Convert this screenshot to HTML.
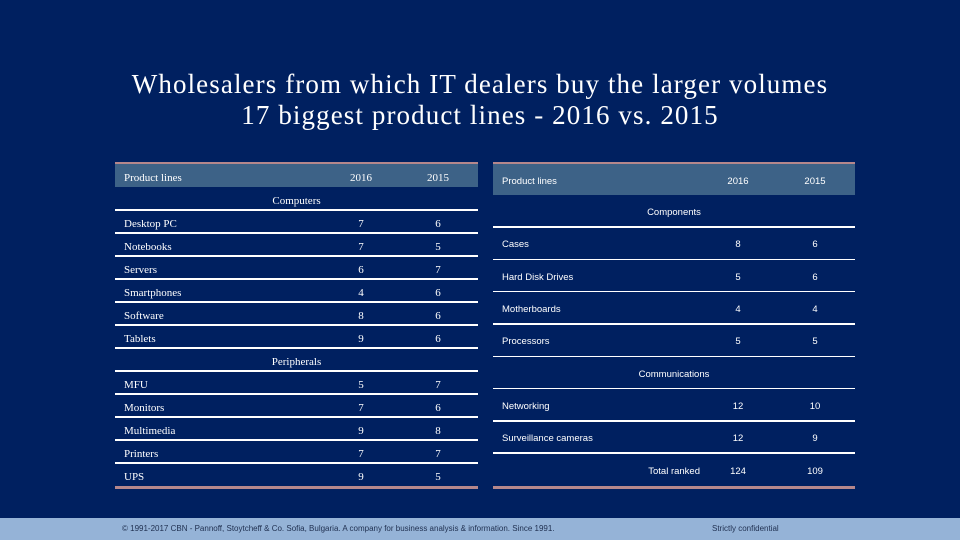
<!DOCTYPE html>
<html><head><meta charset="utf-8">
<style>
body{margin:0;width:960px;height:540px;overflow:hidden;background:#002060;position:relative;font-family:"Liberation Serif",serif;color:#fff}
.abs{position:absolute}
#title{left:0;width:960px;top:69px;text-align:center;font-size:27px;line-height:31px;letter-spacing:1.1px}
.c{text-align:center}
.L{font-family:"Liberation Serif",serif;font-size:11px}
.R{font-family:"Liberation Sans",sans-serif;font-size:9.5px}
#footer{left:0;top:518px;width:960px;height:22px;background:#95b3d7}
.ft{font-family:"Liberation Sans",sans-serif;font-size:8px;color:#1f2f4f;top:524px}
</style></head><body>
<div id="title" class="abs">Wholesalers from which IT dealers buy the larger volumes<br>17 biggest product lines - 2016 vs. 2015</div>
<div id="footer" class="abs"></div>
<div class="abs ft" style="left:122px">© 1991-2017 CBN - Pannoff, Stoytcheff &amp; Co. Sofia, Bulgaria. A company for business analysis &amp; information. Since 1991.</div>
<div class="abs ft" style="left:712px">Strictly confidential</div>
<script>
const leftRows=[["g","Computers"],["r","Desktop PC"],["r","Notebooks"],["r","Servers"],["r","Smartphones"],["r","Software"],["r","Tablets"],["g","Peripherals"],["r","MFU"],["r","Monitors"],["r","Multimedia"],["r","Printers"],["r","UPS"]];
const left2016=[null,7,7,6,4,8,9,null,5,7,9,7,9];
const left2015=[null,6,5,7,6,6,6,null,7,6,8,7,5];
const rightRows=[["g","Components"],["r","Cases"],["r","Hard Disk Drives"],["r","Motherboards"],["r","Processors"],["g","Communications"],["r","Networking"],["r","Surveillance cameras"],["t","Total ranked"]];
const right2016=[null,8,5,4,5,null,12,12,124];
const right2015=[null,6,6,4,5,null,10,9,109];
function el(cls,st,txt){const d=document.createElement('div');d.className='abs '+cls;Object.assign(d.style,st);if(txt!=null)d.textContent=txt;document.body.appendChild(d);return d;}
function table(o){
  const x=o.x,w=o.w;
  let d=el('',{left:x+'px',top:(o.top-2)+'px',width:w+'px',height:'2px',background:'#b5878c'});
  
  
  d=el('',{left:x+'px',top:o.top+'px',width:w+'px',height:o.hh+'px',background:'#3d6287'});
  
  
  const hy=o.top+o.hh/2-7+(o.off||0);
  d=el(o.cls,{left:(x+9)+'px',top:hy+'px'},'Product lines');
  
  
  d=el(o.cls+' c',{left:(o.c1-30)+'px',width:'60px',top:hy+'px'},'2016');
  
  
  d=el(o.cls+' c',{left:(o.c2-30)+'px',width:'60px',top:hy+'px'},'2015');
  
  
  let y=o.top+o.hh;
  o.rows.forEach((r,i)=>{
    const ty=y+o.rh/2-7+(o.off||0);
    const slug=r[1].toLowerCase().replace(/\s+/g,'-');
    if(r[0]==='g'){
      d=el(o.cls+' c',{left:x+'px',width:w+'px',top:ty+'px'},r[1]);
      
      
    }else{
      if(r[0]==='t'){
        d=el(o.cls,{left:(x)+'px',width:(o.c1-x-38)+'px',textAlign:'right',top:ty+'px'},r[1]);
      }else{
        d=el(o.cls,{left:(x+9)+'px',top:ty+'px'},r[1]);
      }
      
      
      d=el(o.cls+' c',{left:(o.c1-30)+'px',width:'60px',top:ty+'px'},String(o.v1[i]));
      
      
      d=el(o.cls+' c',{left:(o.c2-30)+'px',width:'60px',top:ty+'px'},String(o.v2[i]));
      
      
    }
    y+=o.rh;
    const last=i===o.rows.length-1;
    d=el('',{left:x+'px',top:(last?y:y-1)+'px',width:w+'px',height:(last?3:1.5)+'px',background:last?'#b5878c':'#ffffff'});
    
    
  });
}
table({name:'left-table',x:115,w:363,top:164,hh:23,rh:23,cls:'L',c1:361,c2:438,rows:leftRows,v1:left2016,v2:left2015,off:3});
table({name:'right-table',x:493,w:362,top:164,hh:31,rh:32.3,cls:'R',c1:738,c2:815,rows:rightRows,v1:right2016,v2:right2015,off:3});
</script>
</body></html>
